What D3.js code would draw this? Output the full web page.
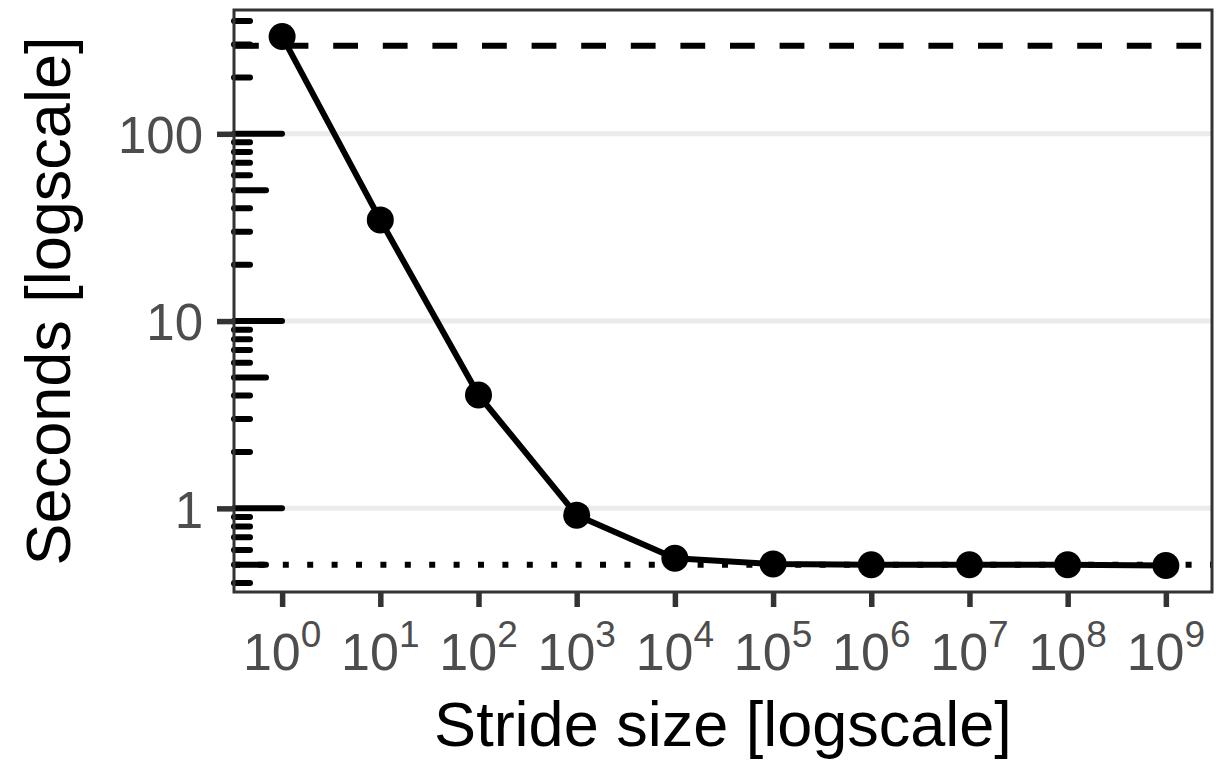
<!DOCTYPE html>
<html>
<head>
<meta charset="utf-8">
<script src="https://cdn.jsdelivr.net/npm/d3@7"></script>
<style>
  body { margin: 0; background: #fff; }
  svg text { font-family: "Liberation Sans", Arial, Helvetica, sans-serif; }
</style>
</head>
<body>
<svg id="chart"></svg>
<script>
// stride sizes as powers of ten, and measured run time in seconds
const strideExp = [0, 1, 2, 3, 4, 5, 6, 7, 8, 9];
const seconds = [331, 34.7, 4.03, 0.92, 0.541, 0.505, 0.50, 0.50, 0.50, 0.495];
// reference lines
const upperRef = 295;
const lowerRef = 0.5;
const yTicks = [1, 10, 100];
const yTickLabels = ["1", "10", "100"];

const W = 1217, H = 763;
const panel = { left: 234, right: 1212, top: 10, bottom: 592 };
const lw = 6;

const svg = d3.select("#chart")
    .attr("width", W)
    .attr("height", H);

svg.append("rect").attr("width", W).attr("height", H).attr("fill", "#fff");

const strides = strideExp.map(e => Math.pow(10, e));

const xScale = d3.scaleLog()
    .domain([Math.pow(10, -0.49), Math.pow(10, 9.47)])
    .range([panel.left, panel.right]);

// ggplot style 5% expansion in log space
const allY = seconds.concat([upperRef, lowerRef]);
const lo = Math.log10(d3.min(allY)), hi = Math.log10(d3.max(allY));
const pad = (hi - lo) * 0.05;
const yScale = d3.scaleLog()
    .domain([Math.pow(10, lo - pad), Math.pow(10, hi + pad)])
    .range([panel.bottom, panel.top]);

// grid lines
svg.append("g")
    .selectAll("line")
    .data(yTicks)
    .join("line")
    .attr("x1", panel.left).attr("x2", panel.right)
    .attr("y1", d => yScale(d)).attr("y2", d => yScale(d))
    .attr("stroke", "#ebebeb")
    .attr("stroke-width", 5);

// log ticks inside the panel
const logTicks = [];
const d0 = Math.floor(Math.log10(yScale.domain()[0]));
const d1 = Math.ceil(Math.log10(yScale.domain()[1]));
for (let d = d0; d <= d1; d++) {
    for (let k = 1; k <= 9; k++) {
        const v = k * Math.pow(10, d);
        if (v >= yScale.domain()[0] && v <= yScale.domain()[1]) logTicks.push({ v: v, k: k });
    }
}
svg.append("g")
    .selectAll("line")
    .data(logTicks)
    .join("line")
    .attr("x1", panel.left)
    .attr("x2", d => panel.left + (d.k === 1 ? 48 : d.k === 5 ? 32 : 16))
    .attr("y1", d => yScale(d.v)).attr("y2", d => yScale(d.v))
    .attr("stroke", "#000")
    .attr("stroke-width", 6)
    .attr("stroke-linecap", "round");

// reference lines
svg.append("line")
    .attr("x1", panel.left).attr("x2", panel.right)
    .attr("y1", yScale(upperRef)).attr("y2", yScale(upperRef))
    .attr("stroke", "#000")
    .attr("stroke-width", lw)
    .attr("stroke-dasharray", "24.8,24.8");

svg.append("line")
    .attr("x1", panel.left).attr("x2", panel.right)
    .attr("y1", yScale(lowerRef)).attr("y2", yScale(lowerRef))
    .attr("stroke", "#000")
    .attr("stroke-width", lw)
    .attr("stroke-dasharray", "6,18.4");

// series line and points
const line = d3.line()
    .x((d, i) => xScale(strides[i]))
    .y(d => yScale(d));

svg.append("path")
    .datum(seconds)
    .attr("d", line)
    .attr("fill", "none")
    .attr("stroke", "#000")
    .attr("stroke-width", lw)
    .attr("stroke-linejoin", "round");

svg.append("g")
    .selectAll("circle")
    .data(seconds)
    .join("circle")
    .attr("cx", (d, i) => xScale(strides[i]))
    .attr("cy", d => yScale(d))
    .attr("r", 13.5)
    .attr("fill", "#000");

// panel border
svg.append("rect")
    .attr("x", panel.left).attr("y", panel.top)
    .attr("width", panel.right - panel.left)
    .attr("height", panel.bottom - panel.top)
    .attr("fill", "none")
    .attr("stroke", "#333")
    .attr("stroke-width", 3);

// y axis
const yAxis = svg.append("g")
    .attr("transform", `translate(${panel.left}, 0)`)
    .call(d3.axisLeft(yScale).tickValues(yTicks).tickFormat((d, i) => yTickLabels[i]).tickSize(17).tickPadding(14));
yAxis.select(".domain").remove();
yAxis.selectAll(".tick line").attr("stroke", "#333").attr("stroke-width", 5.5);
yAxis.selectAll(".tick text")
    .attr("fill", "#4d4d4d")
    .style("font-size", "51px")
    .attr("dy", "0.37em");

// x axis
const xAxis = svg.append("g")
    .attr("transform", `translate(0, ${panel.bottom})`)
    .call(d3.axisBottom(xScale).tickValues(strides).tickSize(15).tickFormat(""));
xAxis.select(".domain").remove();
xAxis.selectAll(".tick line").attr("stroke", "#333").attr("stroke-width", 5.5);

const xLabels = svg.append("g")
    .selectAll("text")
    .data(strideExp)
    .join("text")
    .attr("x", (d, i) => xScale(strides[i]))
    .attr("y", 670)
    .attr("text-anchor", "middle")
    .attr("fill", "#4d4d4d")
    .style("font-size", "52px");
xLabels.append("tspan").text("10");
xLabels.append("tspan")
    .attr("dy", -23)
    .style("font-size", "37px")
    .text(d => d);

// titles
svg.append("text")
    .attr("x", (panel.left + panel.right) / 2)
    .attr("y", 746)
    .attr("text-anchor", "middle")
    .style("font-size", "63px")
    .attr("fill", "#000")
    .text("Stride size [logscale]");

svg.append("text")
    .attr("transform", `translate(70, ${(panel.top + panel.bottom) / 2}) rotate(-90)`)
    .attr("text-anchor", "middle")
    .style("font-size", "63px")
    .attr("fill", "#000")
    .text("Seconds [logscale]");
</script>
</body>
</html>
